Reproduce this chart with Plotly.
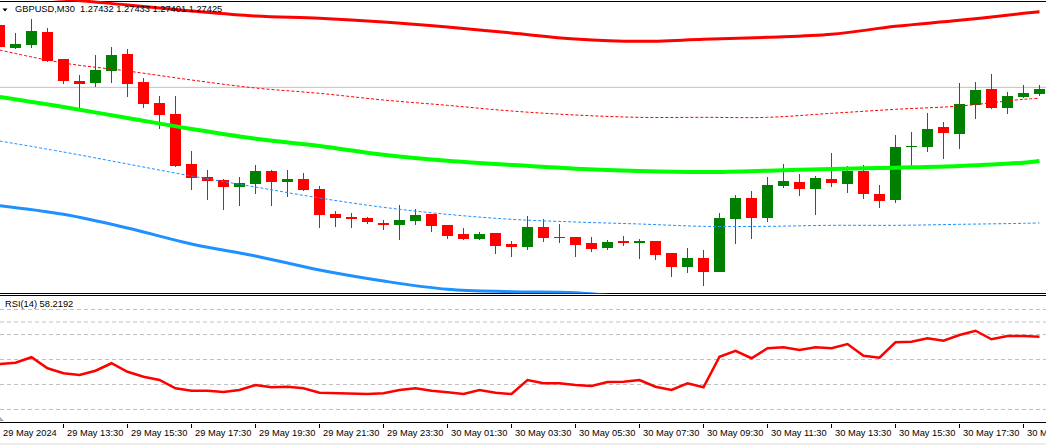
import plotly.graph_objects as go
import pandas as pd

W, H = 1046, 445

# ---------------- data ----------------
times = pd.date_range("2024-05-29 11:30", periods=66, freq="30min")

opens = [1.27615, 1.27546, 1.27555, 1.27594, 1.27513, 1.27447, 1.27441, 1.27477, 1.27528, 1.27444,
         1.27381, 1.27348, 1.27198, 1.27159, 1.27150, 1.27129, 1.27138, 1.27177, 1.27144, 1.27153,
         1.27123, 1.27048, 1.27039, 1.27036, 1.27021, 1.27015, 1.27027, 1.27048, 1.27015, 1.26988,
         1.26973, 1.26991, 1.26958, 1.26949, 1.27009, 1.26979, 1.26979, 1.26961, 1.26946, 1.26967,
         1.26961, 1.26967, 1.26931, 1.26889, 1.26916, 1.26874, 1.27033, 1.27096, 1.27036, 1.27132,
         1.27144, 1.27123, 1.27153, 1.27138, 1.27177, 1.27108, 1.27090, 1.27249, 1.27249, 1.27309,
         1.27288, 1.27375, 1.27423, 1.27366, 1.27399, 1.27408]
highs = [1.27621, 1.27591, 1.27633, 1.27606, 1.27513, 1.27465, 1.27525, 1.27549, 1.27543, 1.27456,
         1.27402, 1.27402, 1.27237, 1.27180, 1.27153, 1.27159, 1.27195, 1.27180, 1.27180, 1.27171,
         1.27132, 1.27057, 1.27051, 1.27039, 1.27030, 1.27075, 1.27063, 1.27048, 1.27015, 1.27006,
         1.26994, 1.26991, 1.26967, 1.27042, 1.27033, 1.27018, 1.26979, 1.26979, 1.26970, 1.26982,
         1.26973, 1.26967, 1.26931, 1.26946, 1.26940, 1.27051, 1.27105, 1.27117, 1.27159, 1.27198,
         1.27168, 1.27162, 1.27231, 1.27192, 1.27195, 1.27135, 1.27285, 1.27294, 1.27351, 1.27324,
         1.27441, 1.27444, 1.27468, 1.27414, 1.27435, 1.27435]
lows = [1.27546, 1.27543, 1.27546, 1.27504, 1.27438, 1.27366, 1.27429, 1.27441, 1.27399, 1.27366,
        1.27303, 1.27189, 1.27120, 1.27090, 1.27060, 1.27072, 1.27108, 1.27072, 1.27099, 1.27117,
        1.27006, 1.27009, 1.27006, 1.27018, 1.27000, 1.26970, 1.27015, 1.26994, 1.26973, 1.26970,
        1.26970, 1.26928, 1.26919, 1.26940, 1.26964, 1.26961, 1.26919, 1.26934, 1.26940, 1.26952,
        1.26913, 1.26910, 1.26859, 1.26871, 1.26832, 1.26874, 1.26958, 1.26973, 1.27024, 1.27126,
        1.27102, 1.27045, 1.27129, 1.27111, 1.27093, 1.27066, 1.27081, 1.27192, 1.27234, 1.27213,
        1.27243, 1.27333, 1.27363, 1.27348, 1.27396, 1.27402]
closes = [1.27549, 1.27558, 1.27597, 1.27507, 1.27447, 1.27438, 1.27480, 1.27525, 1.27438, 1.27378,
          1.27345, 1.27192, 1.27156, 1.27147, 1.27129, 1.27141, 1.27177, 1.27144, 1.27153, 1.27120,
          1.27045, 1.27036, 1.27033, 1.27024, 1.27015, 1.27030, 1.27045, 1.27012, 1.26982, 1.26973,
          1.26988, 1.26952, 1.26949, 1.27009, 1.26976, 1.26976, 1.26955, 1.26943, 1.26964, 1.26961,
          1.26967, 1.26925, 1.26889, 1.26916, 1.26874, 1.27036, 1.27096, 1.27036, 1.27135, 1.27147,
          1.27123, 1.27156, 1.27141, 1.27177, 1.27108, 1.27087, 1.27249, 1.27252, 1.27303, 1.27291,
          1.27378, 1.27420, 1.27366, 1.27402, 1.27411, 1.27423]

# indicator lines, sampled at these bar indices
band_idx = [0, 4, 8, 12, 16, 20, 24, 28, 32, 36, 40, 44, 48, 52, 56, 60, 64, 65]
ma_mid = [1.27399, 1.27369, 1.27336, 1.27303, 1.27274, 1.27252, 1.27226, 1.27208, 1.27195, 1.27184,
          1.27177, 1.27174, 1.27178, 1.27183, 1.27187, 1.27192, 1.27202, 1.27207]
band_upper = [1.27705, 1.27692, 1.27675, 1.27657, 1.27642, 1.27635, 1.27624, 1.27609, 1.27591, 1.27573,
              1.27566, 1.27572, 1.27578, 1.27587, 1.27611, 1.27629, 1.27650, 1.27655]
band_upper_inner = [1.27540, 1.27501, 1.27477, 1.27450, 1.27426, 1.27410, 1.27390, 1.27374, 1.27357, 1.27345,
                    1.27338, 1.27338, 1.27338, 1.27350, 1.27362, 1.27372, 1.27392, 1.27395]
band_lower_inner = [1.27267, 1.27234, 1.27198, 1.27162, 1.27129, 1.27096, 1.27068, 1.27047, 1.27032, 1.27024,
                    1.27018, 1.27011, 1.27011, 1.27014, 1.27014, 1.27017, 1.27020, 1.27021]
lower_idx = [0, 4, 8, 12, 16, 20, 24, 28, 32, 36, 40]
band_lower = [1.27073, 1.27047, 1.27006, 1.26958, 1.26922, 1.26880, 1.26847, 1.26822, 1.26815, 1.26812,
              1.26794]

rsi = [46.4, 47.4, 51.8, 43.0, 39.0, 37.6, 41.0, 47.0, 40.2, 36.2,
       33.6, 27.0, 25.0, 25.0, 24.0, 25.6, 29.6, 27.8, 28.2, 27.0,
       23.4, 23.2, 23.0, 22.4, 23.0, 25.6, 27.0, 25.0, 23.8, 22.4,
       25.6, 23.4, 22.4, 33.6, 31.0, 31.0, 29.6, 28.8, 32.0, 32.2,
       33.6, 28.2, 25.6, 31.0, 27.8, 52.2, 57.0, 51.0, 59.0, 59.8,
       57.6, 59.8, 59.0, 62.4, 53.0, 51.4, 63.8, 64.2, 67.0, 65.0,
       69.6, 73.0, 66.2, 68.8, 68.8, 68.2]
rsi_levels = [10, 30, 50, 70, 80, 90]

tick_idx = [0, 4, 8, 12, 16, 20, 24, 28, 32, 36, 40, 44, 48, 52, 56, 60, 64]
tick_labels = ["29 May 2024", "29 May 13:30", "29 May 15:30", "29 May 17:30", "29 May 19:30",
               "29 May 21:30", "29 May 23:30", "30 May 01:30", "30 May 03:30", "30 May 05:30",
               "30 May 07:30", "30 May 09:30", "30 May 11:30", "30 May 13:30", "30 May 15:30",
               "30 May 17:30", "30 May 19:30"]

header = "GBPUSD,M30  1.27432 1.27433 1.27401 1.27425"
rsi_label = "RSI(14) 58.2192"
bid_price = 1.27428

# ---------------- style ----------------
UP = "#008000"
DN = "#FF0000"
FONT = dict(family="Liberation Sans, Arial, sans-serif", size=9.3, color="#000000")


def pyf(p):  # pixel row -> paper fraction
    return 1 - p / H


def pxf(p):
    return p / W


x_range = [0.03125, 65.40625]
main_range = [1.268095, 1.27690]
rsi_range = [-0.4, 100.8]

idx = list(range(len(times)))
fig = go.Figure()

# candle bodies
body_base = [min(o, c) for o, c in zip(opens, closes)]
body_h = [max(abs(c - o), 0.000012) for o, c in zip(opens, closes)]
body_col = [UP if c > o else DN for o, c in zip(opens, closes)]
fig.add_trace(go.Bar(x=idx, base=body_base, y=body_h, width=0.6875,
                     marker=dict(color=body_col, line=dict(width=0)),
                     xaxis="x", yaxis="y", hoverinfo="skip", showlegend=False))

# wicks
for col, cond in ((UP, True), (DN, False)):
    wx, wy = [], []
    for i in idx:
        if (closes[i] > opens[i]) == cond:
            wx += [i, i, None]
            wy += [highs[i], lows[i], None]
    fig.add_trace(go.Scatter(x=wx, y=wy, mode="lines", line=dict(color=col, width=1),
                             xaxis="x", yaxis="y", hoverinfo="skip", showlegend=False))

# indicator lines
dot = "3px,2px"
fig.add_trace(go.Scatter(x=band_idx, y=band_lower_inner, mode="lines",
                         line=dict(color="#1E90FF", width=1, dash=dot, shape="spline"),
                         xaxis="x", yaxis="y", showlegend=False))
fig.add_trace(go.Scatter(x=band_idx, y=band_upper_inner, mode="lines",
                         line=dict(color="#FF0000", width=1, dash=dot, shape="spline"),
                         xaxis="x", yaxis="y", showlegend=False))
fig.add_trace(go.Scatter(x=lower_idx, y=band_lower, mode="lines",
                         line=dict(color="#1E90FF", width=3, shape="spline"),
                         xaxis="x", yaxis="y", showlegend=False))
fig.add_trace(go.Scatter(x=band_idx, y=band_upper, mode="lines",
                         line=dict(color="#FF0000", width=3, shape="spline"),
                         xaxis="x", yaxis="y", showlegend=False))
fig.add_trace(go.Scatter(x=band_idx, y=ma_mid, mode="lines",
                         line=dict(color="#00FF00", width=4, shape="spline"),
                         xaxis="x", yaxis="y", showlegend=False))

# RSI
fig.add_trace(go.Scatter(x=idx, y=rsi, mode="lines", line=dict(color="#FF0000", width=2.5),
                         xaxis="x2", yaxis="y2", showlegend=False))

shapes = []
# bid line
shapes.append(dict(type="line", xref="paper", yref="y", x0=0, x1=1, y0=bid_price, y1=bid_price,
                   line=dict(color="#C0C0C0", width=1), layer="below"))
# RSI levels
for lv in rsi_levels:
    shapes.append(dict(type="line", xref="paper", yref="y2", x0=0, x1=1, y0=lv, y1=lv,
                       line=dict(color="#C0C0C0", width=1, dash="4px,3px"), layer="below"))
# borders
for row in (1.5, 293.5, 295.5, 422.5):
    shapes.append(dict(type="line", xref="paper", yref="paper", x0=0, x1=1, y0=pyf(row), y1=pyf(row),
                       line=dict(color="#000000", width=1), layer="below"))
shapes.append(dict(type="line", xref="paper", yref="paper", x0=0, x1=1, y0=pyf(444), y1=pyf(444),
                   line=dict(color="#DCDCDC", width=1), layer="below"))
# header triangle
shapes.append(dict(type="path", xref="paper", yref="paper",
                   path=f"M {pxf(2.5)},{pyf(8.5)} L {pxf(7.5)},{pyf(8.5)} L {pxf(5)},{pyf(11.5)} Z",
                   fillcolor="#000000", line=dict(width=0)))
# small corner triangle of the sub-window
shapes.append(dict(type="path", xref="paper", yref="paper",
                   path=f"M 0,{pyf(417)} L {pxf(4)},{pyf(421)} L 0,{pyf(421)} Z",
                   fillcolor="#A8A8A8", line=dict(width=0)))

annotations = [
    dict(text=header, xref="paper", yref="paper", x=pxf(13), y=pyf(9.3), xanchor="left",
         yanchor="middle", showarrow=False, font=FONT),
    dict(text=rsi_label, xref="paper", yref="paper", x=pxf(3), y=pyf(303.5), xanchor="left",
         yanchor="middle", showarrow=False, font=FONT),
]
for k, lab in zip(tick_idx, tick_labels):
    annotations.append(dict(text=lab, xref="x2", yref="paper", x=max(k, x_range[0]), y=pyf(433),
                            xanchor="left", yanchor="middle", xshift=1, showarrow=False, font=FONT))

fig.update_layout(
    width=W, height=H,
    margin=dict(l=0, r=0, t=0, b=0),
    paper_bgcolor="#FFFFFF", plot_bgcolor="#FFFFFF",
    barmode="overlay", bargap=0,
    showlegend=False,
    xaxis=dict(domain=[0, 1], range=x_range, showgrid=False, zeroline=False, showticklabels=False,
               ticks="", showline=False, anchor="y"),
    yaxis=dict(domain=[pyf(293.5), 1], range=main_range, showgrid=False, zeroline=False,
               showticklabels=False, ticks="", showline=False),
    xaxis2=dict(domain=[0, 1], range=x_range, showgrid=False, zeroline=False, showticklabels=False,
                tickmode="array", tickvals=tick_idx, ticks="outside", ticklen=4, tickwidth=1,
                tickcolor="#000000", showline=False, anchor="y2"),
    yaxis2=dict(domain=[pyf(422.5), pyf(296)], range=rsi_range, showgrid=False, zeroline=False,
                showticklabels=False, ticks="", showline=False),
    shapes=shapes,
    annotations=annotations,
    font=FONT,
)

fig.write_html("out.html")
